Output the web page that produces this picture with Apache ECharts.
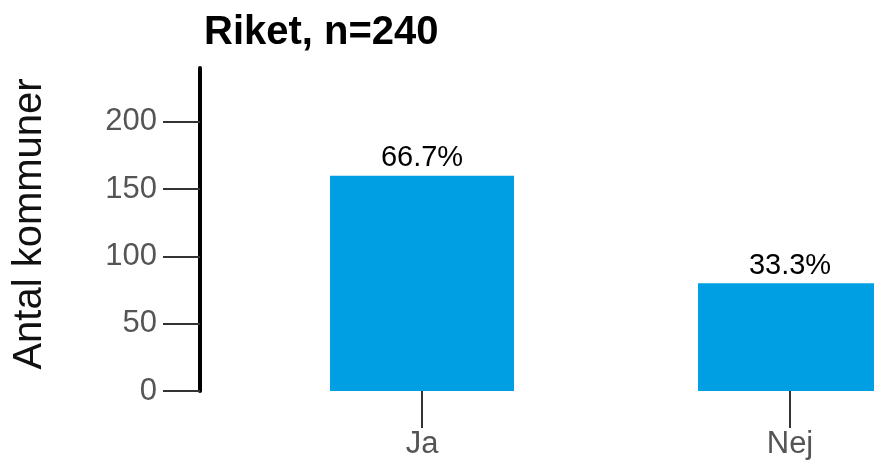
<!DOCTYPE html>
<html>
<head>
<meta charset="utf-8">
<script src="https://cdn.jsdelivr.net/npm/echarts@6/dist/echarts.min.js"></script>
<style>
html,body{margin:0;padding:0;background:#fff;}
#chart{width:874px;height:471px;}
</style>
</head>
<body>
<div id="chart"></div>
<script>
const titleText = 'Riket, n=240';
const categories = ['Ja', 'Nej'];
const counts = [160, 80];
const pctLabels = ['66.7%', '33.3%'];
const yTicks = [0, 50, 100, 150, 200];
const yAxisName = 'Antal kommuner';

const FONT = "'Liberation Sans', Arial, Helvetica, sans-serif";
const chart = echarts.init(document.getElementById('chart'), null, {renderer: 'canvas'});
chart.setOption({
  animation: false,
  backgroundColor: '#ffffff',
  title: {
    text: titleText,
    left: 199,
    top: 8,
    textStyle: {fontFamily: FONT, fontSize: 40, fontWeight: 'bold', color: '#000'}
  },
  grid: {left: 238, right: -100, top: 68, bottom: 80, containLabel: false, outerBoundsMode: 'none'},
  xAxis: {
    type: 'category',
    data: categories,
    axisLine: {show: false},
    axisTick: {show: true, alignWithLabel: true, length: 37, lineStyle: {color: '#333', width: 2}},
    axisLabel: {margin: 38, fontFamily: FONT, fontSize: 31, color: '#555'},
    splitLine: {show: false}
  },
  yAxis: {
    type: 'value',
    min: 0,
    max: 240,
    interval: 50,
    offset: 38,
    name: yAxisName,
    nameLocation: 'middle',
    nameRotate: 90,
    nameGap: 150,
    nameTextStyle: {fontFamily: FONT, fontSize: 40, color: '#111', padding: [0, 0, 0, 11]},
    axisLine: {show: true, lineStyle: {color: '#000', width: 4}},
    axisTick: {show: true, length: 37, customValues: yTicks, lineStyle: {color: '#333', width: 2}},
    axisLabel: {margin: 43, customValues: yTicks, fontFamily: FONT, fontSize: 31, color: '#555'},
    splitLine: {show: false}
  },
  series: [{
    type: 'bar',
    data: counts,
    barWidth: '50%',
    itemStyle: {color: '#009fe3'},
    label: {
      show: true,
      position: 'top',
      distance: 3,
      fontFamily: FONT,
      fontSize: 29,
      color: '#000',
      formatter: p => pctLabels[p.dataIndex]
    }
  }]
});
</script>
</body>
</html>
